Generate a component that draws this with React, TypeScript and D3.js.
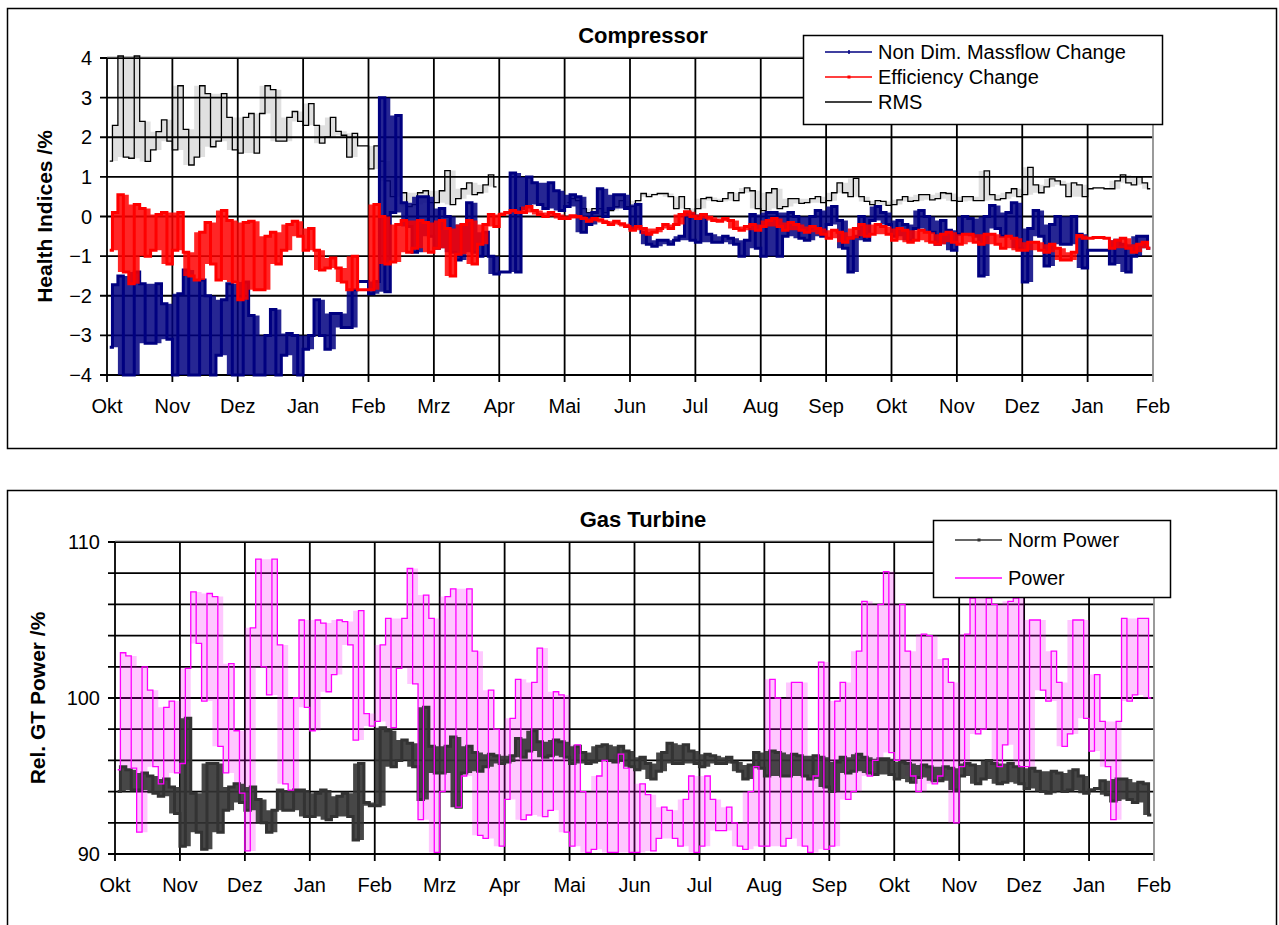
import React, { useRef, useEffect } from 'react';
import * as d3 from 'd3';

// month labels along both x axes (ticks are evenly spaced, one per month)
const MONTHS = ['Okt', 'Nov', 'Dez', 'Jan', 'Feb', 'Mrz', 'Apr', 'Mai', 'Jun', 'Jul', 'Aug', 'Sep', 'Okt', 'Nov', 'Dez', 'Jan', 'Feb'];
const PER_MONTH = 6; // values read per month: low / high of each ~5 day slice

// Compressor: RMS
const rmsLo = [
  1.4, 1.5, 1.47, 1.39, 1.68, 1.9,
  1.68, 1.3, 1.5, 1.76, 1.9, 1.68,
  1.6, 1.6, 2.6, 1.9, 1.9, 2.4,
  2.3, 1.85, 2.0, 2.05, 1.5, 1.78,
  1.2, 0.9, 0.5, 0.25, 0.3, 0.35,
  0.35, 0.3, 0.45, 0.55, 0.6, 0.75,
  null, null, null, null, null, null,
  0.35, 0.2, 0.1, 0.1, 0.15, 0.25,
  0.25, 0.5, 0.55, 0.5, 0.2, 0.05,
  0.2, 0.4, 0.38, 0.4, 0.6, 0.2,
  0.15, 0.2, 0.25, 0.33, 0.35, 0.35,
  0.4, 0.6, 0.5, 0.38, 0.3, 0.28,
  0.3, 0.38, 0.4, 0.42, 0.45, 0.4,
  0.38, 0.4, 0.4, 0.42, 0.45, 0.5,
  0.55, 0.6, 0.75, 0.8, 0.5, 0.5,
  0.7, 0.7, 0.7, 0.85, 0.8, 0.7,
];
const rmsHi = [
  2.3, 4.05, 4.05, 2.4, 2.14, 2.44,
  3.3, 2.2, 3.3, 3.1, 3.1, 2.5,
  2.5, 2.6, 3.3, 3.2, 2.5, 2.65,
  2.85, 2.3, 2.5, 2.15, 2.1, 1.78,
  1.78, 1.4, 1.0, 0.6, 0.6, 0.65,
  0.65, 1.16, 0.7, 0.85, 0.8, 1.05,
  null, null, null, null, null, null,
  0.45, 0.4, 0.2, 0.2, 0.25, 0.4,
  0.4, 0.58, 0.58, 0.58, 0.5, 0.2,
  0.45, 0.48, 0.45, 0.6, 0.72, 0.65,
  0.6, 0.7, 0.45, 0.45, 0.45, 0.5,
  0.6, 0.85, 0.96, 0.5, 0.4, 0.38,
  0.42, 0.5, 0.55, 0.55, 0.6, 0.58,
  0.5, 0.5, 1.15, 0.55, 0.6, 0.7,
  1.24, 0.8, 0.95, 0.9, 0.85, 0.8,
  0.72, 0.72, 0.9, 1.05, 1.0, 0.85,
];

// Compressor: Non Dim. Massflow Change
const massLo = [
  -3.3, -4, -4, -3.2, -3.2, -3.1,
  -4, -4, -4, -4, -3.5, -4,
  -4, -4, -4, -4, -3.5, -4,
  -3.35, -3.0, -3.35, -2.8, -2.8, -1.64,
  -1.95, -1.9, 0.1, -0.25, -0.9, -0.5,
  -0.8, -0.9, -1.1, -0.9, -1.0, -1.45,
  -1.4, -1.4, 0.2, 0.3, 0.2, 0.15,
  0.25, -0.4, -0.2, 0.0, 0.2, 0.2,
  -0.3, -0.7, -0.75, -0.7, -0.6, -0.6,
  -0.65, -0.65, -0.65, -0.7, -1.0, -0.8,
  -1.0, -1.0, -0.5, -0.55, -0.6, -0.5,
  -0.2, -0.8, -1.4, -0.6, -0.1, -0.2,
  -0.5, -0.6, -0.3, -0.4, -0.7, -0.85,
  -0.45, -0.5, -1.5, -0.3, -0.5, -0.8,
  -1.65, -0.5, -1.25, -0.7, -0.7, -1.3,
  -0.85, -0.85, -1.2, -1.4, -1.0, -0.8,
];
const massHi = [
  -1.72, -1.5, -1.4, -1.7, -1.7, -2.2,
  -1.95, -1.35, -1.6, -2.0, -2.1, -1.7,
  -1.65, -2.5, -3.0, -2.35, -2.95, -3.0,
  -3.0, -2.1, -2.45, -2.45, -1.85, -1.64,
  -1.64, 3.0, 2.55, 0.35, 0.5, 0.5,
  0.2, 0.0, -0.2, 0.35, -0.4, -1.0,
  -1.4, 1.1, 1.0, 0.85, 0.85, 0.65,
  0.55, 0.5, 0.1, 0.7, 0.55, 0.55,
  0.3, -0.4, -0.6, -0.6, -0.5, 0.1,
  0.05, -0.45, -0.5, -0.55, -0.6, 0.05,
  0.1, 0.1, 0.1, 0.0, 0.0, 0.15,
  0.25, -0.1, -0.5, 0.0, 0.25, 0.1,
  -0.1, -0.2, 0.15, 0.0, -0.1, -0.35,
  0.0, -0.05, 0.0, 0.28, 0.1, 0.35,
  -0.3, 0.15, -0.2, 0.0, 0.0, -0.45,
  -0.85, -0.85, -0.6, -0.7, -0.5, -0.5,
];

// Compressor: Efficiency Change
const effLo = [
  -0.85, -1.4, -1.7, -1.0, -0.85, -1.2,
  -0.85, -1.5, -1.6, -1.2, -1.6, -1.65,
  -2.1, -1.85, -1.85, -1.2, -0.85, -0.5,
  -0.85, -1.35, -1.3, -1.65, -1.85, -1.85,
  -1.85, -1.2, -1.15, -0.9, -0.8, -0.9,
  -0.8, -1.5, -0.95, -1.2, -0.7, -0.25,
  0.05, 0.1, 0.1, 0.05, 0.0, -0.05,
  -0.05, -0.05, -0.12, -0.15, -0.2, -0.25,
  -0.35, -0.45, -0.4, -0.3, -0.2, 0.0,
  -0.05, -0.1, -0.12, -0.3, -0.35, -0.35,
  -0.25, -0.25, -0.35, -0.35, -0.4, -0.45,
  -0.55, -0.65, -0.55, -0.5, -0.45, -0.45,
  -0.6, -0.65, -0.6, -0.65, -0.7, -0.65,
  -0.7, -0.65, -0.7, -0.7, -0.8, -0.85,
  -0.85, -0.85, -0.9, -1.1, -1.1, -0.55,
  -0.55, -0.55, -0.8, -0.8, -0.9, -0.8,
];
const effHi = [
  0.1, 0.55, 0.3, 0.2, 0.05, 0.1,
  0.1, -0.9, -0.4, -0.15, 0.15, -0.1,
  -0.15, -0.12, -0.5, -0.4, -0.2, -0.12,
  -0.3, -0.85, -1.05, -1.3, -1.0, -1.85,
  0.3, 0.0, -0.2, -0.1, -0.1, -0.15,
  -0.1, -0.3, -0.2, -0.1, -0.2, 0.05,
  0.1, 0.15, 0.25, 0.15, 0.1, 0.05,
  0.02, 0.0, -0.05, -0.08, -0.12, -0.18,
  -0.25, -0.3, -0.3, -0.2, 0.05, 0.12,
  0.05, -0.02, -0.05, -0.1, -0.25, -0.2,
  -0.1, -0.05, -0.15, -0.2, -0.25, -0.3,
  -0.35, -0.4, -0.3, -0.2, -0.2, -0.25,
  -0.3, -0.35, -0.35, -0.4, -0.45, -0.4,
  -0.45, -0.45, -0.45, -0.45, -0.5, -0.55,
  -0.65, -0.65, -0.7, -0.8, -0.9, -0.48,
  -0.53, -0.53, -0.6, -0.55, -0.7, -0.65,
];

// Gas Turbine: Power
const powLo = [
  95.4, 95.5, 91.4, 95.6, 94.5, 95.2,
  95.8, 103.5, 99.8, 96.9, 95.2, 93.9,
  90.2, 102, 100.2, 94.5, 94.1, 99.4,
  97.9, 100.4, 101.5, 103.4, 97.3, 98.2,
  98.5, 98.1, 101.9, 100.9, 92.2, 90.1,
  94, 93, 95, 91.2, 91, 90.5,
  93.5, 92.2, 92.5, 92.4, 92.8, 91.4,
  90.5, 90.1, 90.3, 90.1, 90.1, 90.1,
  90.1, 90.2, 91, 91, 90.5, 90.1,
  90.5, 91.5, 91.5, 90.5, 90.3, 90.5,
  90.5, 90.5, 91, 90.5, 90.1, 90.3,
  90.5, 93.5, 94, 95, 96, 96.5,
  96, 95, 94, 94.5, 95, 92,
  95.6, 97.7, 98, 95.6, 97, 95.6,
  95.6, 100.5, 99.8, 96.9, 97.7, 98.7,
  96.6, 95.6, 92.2, 99.8, 100.2, 100,
];
const powHi = [
  102.9, 102.7, 102.0, 100.5, 99.4, 99.8,
  101.9, 106.8, 106.7, 106.5, 102.2, 97.9,
  104.5, 108.9, 108.9, 103.4, 100, 105,
  105, 104.8, 105, 104.9, 105.6, 99.0,
  103.4, 105.1, 105.1, 108.3, 106.6, 105.1,
  106.5, 107, 107, 103, 100.5, 98,
  98.7, 101.2, 101, 103.2, 100.4, 100.2,
  97, 94, 95, 96, 96.4, 95.5,
  94.5, 93.8, 93, 92.8, 93.5, 95,
  95, 93.5, 93, 92, 94, 95.6,
  101.2, 100, 101, 101, 95, 102.3,
  99.8, 101, 103, 106.2, 106, 108.1,
  106, 103, 104.1, 104, 102.5, 101,
  104.1, 106.4, 106.4, 106, 106.2, 106.4,
  105, 105, 103, 101, 105, 105,
  101.5, 98.5, 98.5, 105.1, 105.1, 105.1,
];

// Gas Turbine: Norm Power
const normLo = [
  94, 94.1, 94.1, 93.9, 93.7, 92.6,
  90.5, 91.4, 90.3, 91.4, 92.8, 93.3,
  92.8, 92, 91.4, 92.8, 92.8, 92.4,
  92.4, 92.2, 92.4, 92.4, 90.9, 93.1,
  93.1, 95.6, 96, 95.6, 93.5, 95.2,
  95.2, 93, 95.2, 95.3, 95.6, 95.8,
  95.9, 96.2, 96.6, 96.2, 96.3, 96.2,
  95.8, 95.8, 95.9, 96, 95.9, 95.6,
  95.4, 94.8, 95.3, 95.8, 95.8, 95.8,
  95.6, 95.8, 95.8, 95.3, 94.8, 95.5,
  95, 95, 95, 95, 94.8, 94.3,
  94.0, 95.2, 95.3, 95.2, 95.1, 95.1,
  94.8, 94.6, 94.9, 94.7, 94.7, 94.1,
  95, 94.5, 94.8, 94.5, 94.6, 94.5,
  94.2, 94, 93.9, 94, 94.1, 93.9,
  94.1, 93.8, 93.4, 93.5, 93.3, 92.5,
];
const normHi = [
  95.6, 95.4, 95.2, 95, 94.8, 94.3,
  98.7, 93.9, 95.8, 95.8, 94.3, 94.5,
  94.3, 93.5, 92.8, 94.1, 94.1, 94.1,
  93.9, 94.1, 93.7, 93.9, 95.8, 93.3,
  98.1, 97.9, 97.3, 97.1, 99.4, 96.9,
  96.9, 97.5, 96.9, 96.5, 96.4, 96.3,
  96.3, 97.4, 97.9, 97.2, 97.3, 97.2,
  96.9, 96.5, 96.9, 97, 96.9, 96.6,
  96.2, 95.8, 96.5, 97.1, 97, 96.6,
  96.4, 96.3, 96.2, 95.9, 95.7, 96.5,
  96.6, 96.5, 96.4, 96.3, 96.3, 96.2,
  95.9, 96.2, 96.4, 96.2, 96.1, 96.1,
  95.9, 95.8, 95.7, 95.6, 95.6, 95.5,
  95.8, 95.7, 96, 95.8, 95.8, 95.6,
  95.5, 95.3, 95.3, 95.2, 95.4, 95,
  94.2, 94.7, 94.8, 94.8, 94.6, 94.5,
];

const FONT = '"Liberation Sans", Arial, sans-serif';

type Pt = { t: number; v: number | null };
type Bin = { t: number; lo: number | null; hi: number | null };

const toBins = (lo: (number | null)[], hi: (number | null)[]): Bin[] =>
  lo.map((l, i) => ({ t: Math.floor(i / PER_MONTH) + ((i % PER_MONTH) + 0.5) / PER_MONTH, lo: l, hi: hi[i] }));

// each slice gives a low and a high reading; alternate the order so the trace zig-zags
const toPoints = (bins: Bin[]): Pt[] => {
  const pts: Pt[] = [];
  const half = 0.25 / PER_MONTH;
  bins.forEach((b, i) => {
    if (b.lo == null || b.hi == null) { pts.push({ t: b.t, v: null }); return; }
    if (i % 2 === 0) pts.push({ t: b.t - half, v: b.lo }, { t: b.t + half, v: b.hi });
    else pts.push({ t: b.t - half, v: b.hi }, { t: b.t + half, v: b.lo });
  });
  return pts;
};

interface Series {
  name: string; bins: Bin[]; color: string; width: number;
  fill: number; marker: 'plus' | 'dot' | 'none'; lineOnTop?: boolean;
}

interface PanelCfg {
  frameY: number; frameH: number;
  x0: number; x1: number; y0: number; y1: number;
  domain: [number, number]; gridStep: number; labelStep: number;
  title: string; yLabel: string; yLabelX: number;
  series: Series[]; legendOrder: number[];
  legend: { x: number; y: number; w: number; h: number; rows: number[] };
}

const App: React.FC = () => {
  const svgRef = useRef<SVGSVGElement | null>(null);

  useEffect(() => {
    if (!svgRef.current) return;
    const svg = d3.select(svgRef.current);
    svg.selectAll('*').remove();

    const panels: PanelCfg[] = [
      {
        frameY: 8, frameH: 440,
        x0: 107, x1: 1153, y0: 58, y1: 375,
        domain: [-4, 4], gridStep: 1, labelStep: 1,
        title: 'Compressor', yLabel: 'Health Indices /%', yLabelX: 52,
        series: [
          { name: 'RMS', bins: toBins(rmsLo, rmsHi), color: '#000000', width: 1.3, fill: 0.12, marker: 'none' },
          { name: 'Non Dim. Massflow Change', bins: toBins(massLo, massHi), color: '#000080', width: 3, fill: 0.85, marker: 'plus' },
          { name: 'Efficiency Change', bins: toBins(effLo, effHi), color: '#ff0000', width: 3, fill: 0.85, marker: 'dot' },
        ],
        legendOrder: [1, 2, 0],
        legend: { x: 803, y: 35, w: 359, h: 89, rows: [52, 77, 102] },
      },
      {
        frameY: 490, frameH: 460,
        x0: 115, x1: 1154, y0: 542, y1: 854,
        domain: [90, 110], gridStep: 2, labelStep: 10,
        title: 'Gas Turbine', yLabel: 'Rel. GT Power /%', yLabelX: 45,
        series: [
          { name: 'Power', bins: toBins(powLo, powHi), color: '#ff00ff', width: 1.3, fill: 0.22, marker: 'none', lineOnTop: true },
          { name: 'Norm Power', bins: toBins(normLo, normHi), color: '#333333', width: 3, fill: 0.9, marker: 'dot' },
        ],
        legendOrder: [1, 0],
        legend: { x: 933, y: 520, w: 237, h: 77, rows: [540, 578] },
      },
    ];

    panels.forEach(p => {
      const g = svg.append('g');
      g.append('rect')
        .attr('x', 7.5).attr('y', p.frameY + 0.5)
        .attr('width', 1269).attr('height', p.frameH)
        .attr('fill', '#fff').attr('stroke', '#000').attr('stroke-width', 1.5);

      const x = d3.scaleLinear().domain([0, MONTHS.length - 1]).range([p.x0, p.x1]);
      const y = d3.scaleLinear().domain(p.domain).range([p.y1, p.y0]);

      // grid
      const yGrid = d3.range(p.domain[0], p.domain[1] + 0.001, p.gridStep);
      g.append('g').selectAll('line').data(yGrid).join('line')
        .attr('x1', p.x0 - 7).attr('x2', p.x1)
        .attr('y1', d => y(d)).attr('y2', d => y(d))
        .attr('stroke', '#000').attr('stroke-width', 1.8);
      g.append('g').selectAll('line').data(d3.range(0, MONTHS.length)).join('line')
        .attr('x1', d => x(d)).attr('x2', d => x(d))
        .attr('y1', p.y0).attr('y2', p.y1 + 7)
        .attr('stroke', d => (d === MONTHS.length - 1 ? '#909090' : '#000'))
        .attr('stroke-width', 1.8);
      g.append('line')
        .attr('x1', p.x0).attr('x2', p.x1).attr('y1', p.y0 - 1).attr('y2', p.y0 - 1)
        .attr('stroke', '#a0a0a0').attr('stroke-width', 1);

      // tick labels
      g.append('g').selectAll('text').data(MONTHS).join('text')
        .attr('x', (_, i) => x(i)).attr('y', p.y1 + 38)
        .attr('text-anchor', 'middle')
        .style('font-family', FONT).style('font-size', '20px')
        .text(d => d);
      const yLabels = d3.range(p.domain[0], p.domain[1] + 0.001, p.labelStep);
      g.append('g').selectAll('text').data(yLabels).join('text')
        .attr('x', p.x0 - 15).attr('y', d => y(d) + 7)
        .attr('text-anchor', 'end')
        .style('font-family', FONT).style('font-size', '20px')
        .text(d => d3.format('d')(d));

      // title and axis label
      g.append('text')
        .attr('x', 643).attr('y', p.y0 - 15)
        .attr('text-anchor', 'middle')
        .style('font-family', FONT).style('font-size', '22px').style('font-weight', 'bold')
        .text(p.title);
      g.append('text')
        .attr('transform', `translate(${p.yLabelX},${(p.y0 + p.y1) / 2}) rotate(-90)`)
        .attr('text-anchor', 'middle')
        .style('font-family', FONT).style('font-size', '21px').style('font-weight', 'bold')
        .text(p.yLabel);

      // series: envelope of the dense readings, then the trace through them
      const line = d3.line<Pt>()
        .defined(d => d.v != null)
        .x(d => x(d.t)).y(d => y(d.v as number))
        .curve(d3.curveStep);
      const band = d3.area<Bin>()
        .defined(b => b.lo != null && b.hi != null)
        .x(b => x(b.t)).y0(b => y(b.lo as number)).y1(b => y(b.hi as number))
        .curve(d3.curveStep);
      const drawLine = (s: Series) => g.append('path')
        .attr('d', line(toPoints(s.bins)))
        .attr('fill', 'none').attr('stroke', s.color)
        .attr('stroke-width', s.width).attr('stroke-linejoin', 'miter');
      p.series.forEach(s => {
        g.append('path').attr('d', band(s.bins))
          .attr('fill', s.color).attr('fill-opacity', s.fill).attr('stroke', 'none');
        if (!s.lineOnTop) drawLine(s);
      });
      p.series.filter(s => s.lineOnTop).forEach(drawLine);

      // legend
      const L = p.legend;
      const lg = g.append('g');
      lg.append('rect').attr('x', L.x + 0.5).attr('y', L.y + 0.5).attr('width', L.w).attr('height', L.h)
        .attr('fill', '#fff').attr('stroke', '#000').attr('stroke-width', 1.5);
      p.legendOrder.map(k => p.series[k]).forEach((s, i) => {
        const ry = L.rows[i];
        const lx = L.x + 22;
        lg.append('line').attr('x1', lx).attr('x2', lx + 47).attr('y1', ry).attr('y2', ry)
          .attr('stroke', s.color).attr('stroke-width', 1.5);
        if (s.marker === 'plus') {
          lg.append('line').attr('x1', lx + 24).attr('x2', lx + 24).attr('y1', ry - 2).attr('y2', ry + 2)
            .attr('stroke', s.color).attr('stroke-width', 1.5);
        } else if (s.marker === 'dot') {
          lg.append('rect').attr('x', lx + 22.5).attr('y', ry - 1.5).attr('width', 3).attr('height', 3)
            .attr('fill', s.color);
        }
        lg.append('text').attr('x', lx + 53).attr('y', ry + 7)
          .style('font-family', FONT).style('font-size', '20px')
          .text(s.name);
      });
    });
  }, []);

  return (
    <svg ref={svgRef} width={1279} height={925}
      style={{ position: 'absolute', left: 0, top: 0, background: '#fff' }} />
  );
};

export default App;
